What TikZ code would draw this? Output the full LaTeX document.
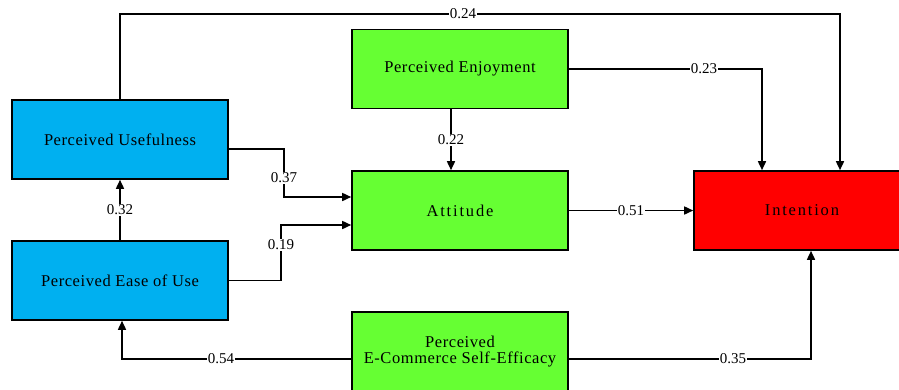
\documentclass[tikz,border=0pt]{standalone}
\usepackage{fontspec}
\setmainfont{Liberation Serif}
\newfontfamily\boxfont[LetterSpace=3.5]{Liberation Serif}
\newfontfamily\widefont[LetterSpace=11]{Liberation Serif}
\usetikzlibrary{arrows.meta}
\definecolor{boxblue}{RGB}{0,176,240}
\definecolor{boxgreen}{RGB}{102,255,51}
\definecolor{boxred}{RGB}{255,0,0}
\begin{document}
\begin{tikzpicture}[x=1pt,y=-1pt,
  box/.style={draw=black, line width=1.6pt, minimum width=216pt, minimum height=79pt,
    inner sep=0pt, align=center, font=\boxfont\fontsize{16.5}{16}\selectfont},
  widebox/.style={box, font=\widefont\fontsize{16.5}{16}\selectfont},
  conn/.style={line width=1.6pt, -{Triangle[length=9pt,width=8pt]}},
  lbl/.style={fill=white, inner sep=1pt, font=\fontsize{15}{16}\selectfont}]
\useasboundingbox (0,0) rectangle (899,389);
\clip (0,0) rectangle (899,389);
\node[box, fill=boxblue] (pu) at (120,139.5) {Perceived Usefulness};
\node[box, fill=boxblue] (peou) at (120,280.5) {Perceived Ease of Use};
\node[box, fill=boxgreen] (pe) at (460,69) {Perceived Enjoyment};
\node[widebox, fill=boxgreen] (att) at (460,210.5) {Attitude};
\node[box, fill=boxgreen] (se) at (460,351.5) {Perceived\\E-Commerce Self-Efficacy};
\node[widebox, fill=boxred] (int) at (802,210.5) {Intention};
\draw[conn] (pu.north) |- (463,14) node[lbl]{0.24} -| ([xshift=38pt]int.north);
\draw[conn] (pe.east) -- (704,69) node[lbl]{0.23} -| ([xshift=-40pt]int.north);
\draw[conn] ([xshift=-9pt]pe.south) -- node[lbl]{0.22} ([xshift=-9pt]att.north);
\draw[conn] ([yshift=-9.5pt]pu.east) -| (284,178) node[lbl]{0.37} |- ([yshift=13.5pt]att.west);
\draw[conn] (peou.east) -| (281,245) node[lbl]{0.19} |- ([yshift=-14.5pt]att.west);
\draw[conn] (peou.north) -- node[lbl]{0.32} (pu.south);
\draw[conn] (att.east) -- node[lbl]{0.51} (int.west);
\draw[conn] ([yshift=-7.5pt]se.west) -- (221,359) node[lbl]{0.54} -| ([xshift=2pt]peou.south);
\draw[conn] ([yshift=-7.5pt]se.east) -- (733,359) node[lbl]{0.35} -| ([xshift=9pt]int.south);
\end{tikzpicture}
\end{document}
